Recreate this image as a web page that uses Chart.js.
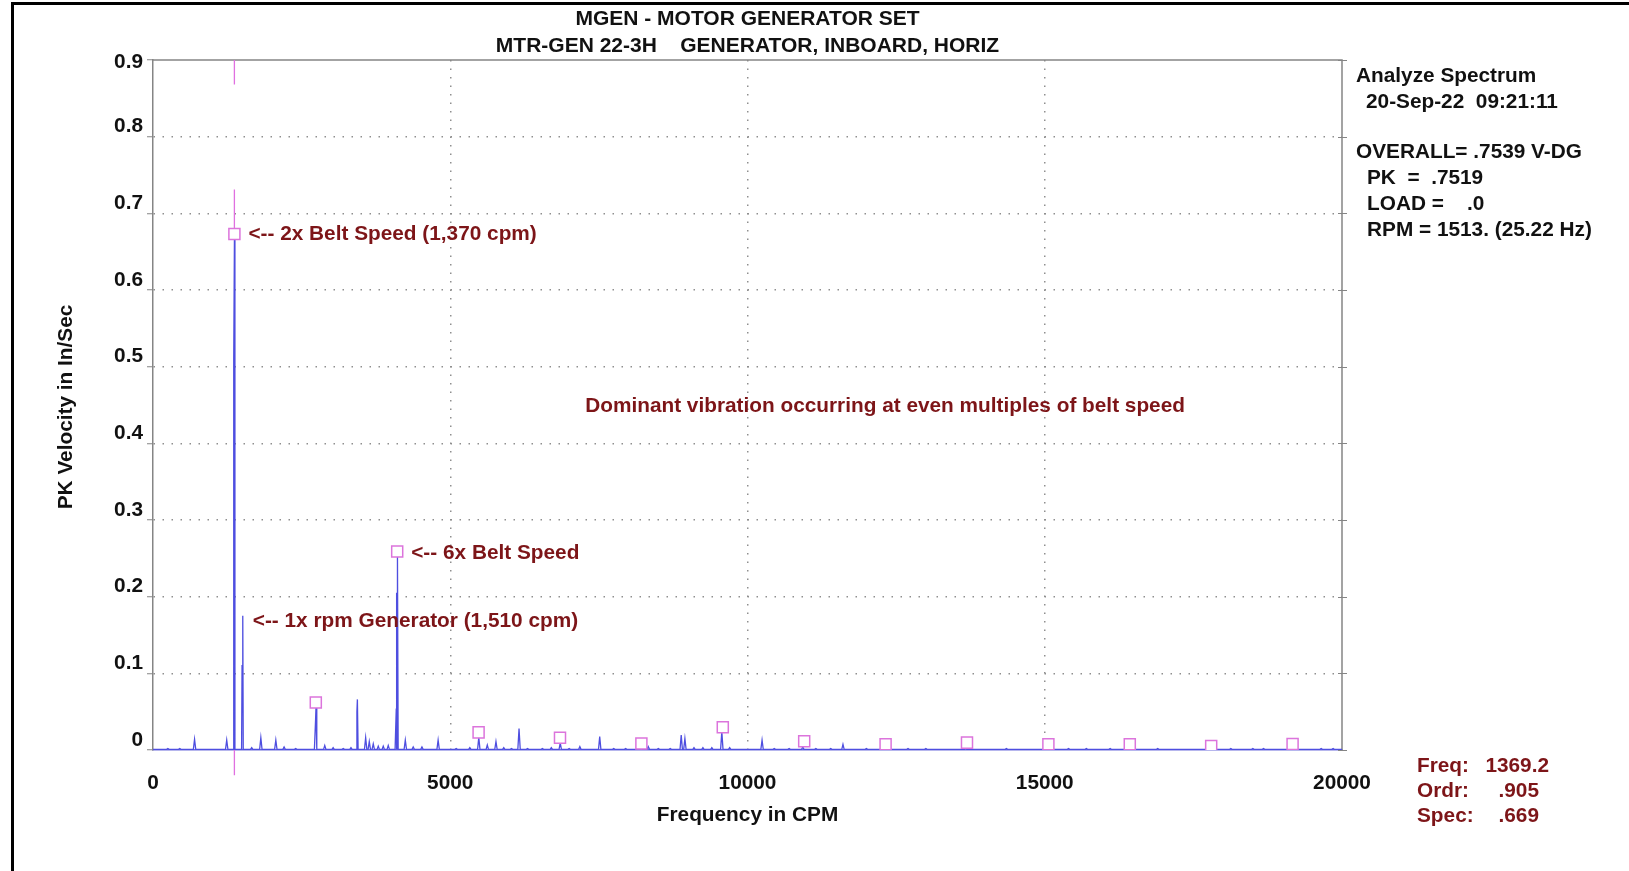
<!DOCTYPE html>
<html>
<head>
<meta charset="utf-8">
<title>MGEN - Motor Generator Set spectrum</title>
<script src="https://cdn.jsdelivr.net/npm/chart.js@4.4.1/dist/chart.umd.min.js"></script>
<style>
  html, body { margin: 0; padding: 0; background: #fff; overflow: hidden; }
  #frame {
    position: absolute; left: 11px; top: 2px; width: 1700px; height: 900px;
    border-left: 3px solid #000; border-top: 3px solid #000;
  }
  #spectrum { position: absolute; left: 0; top: 0; }
</style>
</head>
<body>
<div id="frame"></div>
<canvas id="spectrum" width="1629" height="871"></canvas>
<script>
// spectrum peaks (CPM, in/sec)
const peakCpm = [250, 450, 699, 1240, 1358, 1370, 1498, 1510, 1660, 1814, 2066, 2205, 2400,
  2735, 2742, 2889, 3030, 3200, 3330, 3430, 3438, 3577, 3638, 3705, 3789, 3873, 3957,
  4092, 4104, 4112, 4244, 4377, 4524, 4796, 5100, 5329, 5480, 5623, 5769, 5900, 6030,
  6157, 6300, 6550, 6700, 6850, 7000, 7180, 7514, 7750, 7950, 8210, 8331, 8500, 8700,
  8885, 8947, 9100, 9250, 9400, 9568, 9700, 10245, 10450, 10700, 10930, 11150, 11400,
  11606, 12000, 12300, 12700, 13000, 13670, 14355, 15020, 15400, 15700, 16100, 16410,
  16900, 18130, 18500, 18680, 19140, 19650, 19850];
const peakAmp = [0.002, 0.002, 0.014, 0.013, 0.51, 0.669, 0.11, 0.175, 0.003, 0.016, 0.013, 0.004, 0.002,
  0.040, 0.056, 0.006, 0.003, 0.002, 0.003, 0.050, 0.066, 0.016, 0.011, 0.008, 0.005, 0.005, 0.006,
  0.054, 0.205, 0.255, 0.013, 0.004, 0.004, 0.013, 0.002, 0.003, 0.0165, 0.0065, 0.011, 0.003, 0.002,
  0.028, 0.002, 0.002, 0.003, 0.009, 0.002, 0.0043, 0.0174, 0.002, 0.002, 0.003, 0.0043, 0.002, 0.002,
  0.0196, 0.015, 0.003, 0.003, 0.003, 0.024, 0.003, 0.013, 0.002, 0.002, 0.004, 0.002, 0.002,
  0.0074, 0.002, 0.003, 0.002, 0.002, 0.003, 0.002, 0.004, 0.002, 0.002, 0.002, 0.003,
  0.002, 0.002, 0.002, 0.002, 0.003, 0.002, 0.002];
const peakHalfWidth = 20;   // cpm, foot of each spectral line
const noiseFloor = 0.0008;

// harmonic markers of 2x belt speed
const harmonicCpm = [1369.2, 2738.4, 4107.6, 5476.8, 6846, 8215.2, 9584.4, 10953.6, 12322.8,
  13692, 15061.2, 16430.4, 17799.6, 19168.8];
const harmonicAmp = [0.673, 0.062, 0.259, 0.023, 0.016, 0.0085, 0.0296, 0.0115, 0.0074,
  0.0096, 0.0074, 0.0074, 0.0052, 0.0078];

// cursor line at the selected frequency
const cursorCpm = 1369.2;
const cursorY = [0.9, 0.868, null, 0.731, 0.673, null, 0, -0.033];

const xTicks = [0, 5000, 10000, 15000, 20000];
const yTicks = [0, 0.1, 0.2, 0.3, 0.4, 0.5, 0.6, 0.7, 0.8, 0.9];
const yTickLabels = ['0', '0.1', '0.2', '0.3', '0.4', '0.5', '0.6', '0.7', '0.8', '0.9'];

const titleLines = ['MGEN - MOTOR GENERATOR SET', 'MTR-GEN 22-3H    GENERATOR, INBOARD, HORIZ'];
const infoLines = [
  ['Analyze Spectrum', 0, 76],
  ['20-Sep-22  09:21:11', 10, 102],
  ['OVERALL= .7539 V-DG', 0, 152],
  ['PK  =  .7519', 11, 178],
  ['LOAD =    .0', 11, 204],
  ['RPM = 1513. (25.22 Hz)', 11, 230],
];
const cursorReadout = [
  ['Freq:', '1369.2', 766],
  ['Ordr:', '.905', 791],
  ['Spec:', '.669', 816],
];
const notes = [
  { text: '<-- 2x Belt Speed (1,370 cpm)', x: 1369.2, y: 0.673, dx: 14 },
  { text: '<-- 6x Belt Speed', x: 4107.6, y: 0.257, dx: 14 },
  { text: '<-- 1x rpm Generator (1,510 cpm)', x: 1510, y: 0.168, dx: 10 },
  { text: 'Dominant vibration occurring at even multiples of belt speed', x: 7270, y: 0.449, dx: 0 },
];

const FONT = '"Liberation Sans", Arial, sans-serif';
const DARK_RED = '#7d1518';
const AXIS_GREY = '#858585';
const GRID_GREY = '#8f8f8f';

function spectrumPoints() {
  const pts = [];
  peakCpm.forEach((f, i) => {
    pts.push({ x: f - peakHalfWidth, y: noiseFloor });
    pts.push({ x: f, y: peakAmp[i] });
    pts.push({ x: f + peakHalfWidth, y: noiseFloor });
  });
  pts.sort((a, b) => a.x - b.x);
  return [{ x: 0, y: noiseFloor }, ...pts, { x: 20000, y: noiseFloor }];
}

const textPlugin = {
  id: 'spectrumText',
  beforeDatasetsDraw(chart) {
    const { ctx, chartArea: a, scales } = chart;
    ctx.save();
    ctx.strokeStyle = AXIS_GREY;
    ctx.lineWidth = 1.5;
    ctx.beginPath();
    ctx.moveTo(a.left, a.top);
    ctx.lineTo(a.right, a.top);
    ctx.lineTo(a.right, a.bottom);
    ctx.stroke();
    // small ticks on the right frame
    ctx.lineWidth = 1;
    yTicks.forEach((v) => {
      const py = Math.round(scales.y.getPixelForValue(v)) + 0.5;
      ctx.beginPath();
      ctx.moveTo(a.right - 4, py);
      ctx.lineTo(a.right + 5, py);
      ctx.stroke();
    });
    ctx.restore();
  },
  afterDraw(chart) {
    const { ctx, chartArea: a, scales } = chart;
    const midX = (a.left + a.right) / 2;
    ctx.save();
    ctx.textBaseline = 'middle';

    ctx.fillStyle = '#111';
    ctx.textAlign = 'center';
    ctx.font = `bold 21px ${FONT}`;
    ctx.fillText(titleLines[0], midX, 19);
    ctx.fillText(titleLines[1], midX, 46);

    ctx.font = `bold 20.8px ${FONT}`;
    // y tick labels sit just above their grid line, top one below the frame
    ctx.textAlign = 'right';
    yTicks.forEach((v, i) => {
      const py = scales.y.getPixelForValue(v) + (v === 0.9 ? 2 : -10);
      ctx.fillText(yTickLabels[i], a.left - 10, py);
    });

    ctx.textAlign = 'center';
    ctx.fillText('Frequency in CPM', midX, 815);
    ctx.save();
    ctx.translate(66, (a.top + a.bottom) / 2 + 2);
    ctx.rotate(-Math.PI / 2);
    ctx.fillText('PK Velocity in In/Sec', 0, 0);
    ctx.restore();

    ctx.textAlign = 'left';
    infoLines.forEach(([t, dx, y]) => ctx.fillText(t, a.right + 14 + dx, y));

    ctx.fillStyle = DARK_RED;
    cursorReadout.forEach(([label, value, y]) => {
      ctx.fillText(label, 1417, y);
      ctx.textAlign = 'right';
      ctx.fillText(value, value.length > 5 ? 1549 : 1539, y);
      ctx.textAlign = 'left';
    });

    notes.forEach((n) => {
      ctx.fillText(n.text, scales.x.getPixelForValue(n.x) + n.dx, scales.y.getPixelForValue(n.y));
    });
    ctx.restore();
  },
};

const canvas = document.getElementById('spectrum');
new Chart(canvas, {
  type: 'scatter',
  data: {
    datasets: [
      {
        label: 'harmonics',
        data: harmonicCpm.map((f, i) => ({ x: f, y: harmonicAmp[i] })),
        showLine: false,
        pointStyle: 'rect',
        pointRadius: 7.8,
        pointBorderWidth: 1.5,
        pointBorderColor: '#dc74dc',
        pointBackgroundColor: '#ffffff',
      },
      {
        label: 'spectrum',
        data: spectrumPoints(),
        showLine: true,
        borderColor: '#4e4ee0',
        borderWidth: 1.3,
        pointRadius: 0,
        tension: 0,
      },
      {
        label: 'cursor',
        data: cursorY.map((y) => ({ x: cursorCpm, y })),
        showLine: true,
        spanGaps: false,
        borderColor: '#e070e0',
        borderWidth: 1.3,
        pointRadius: 0,
        clip: false,
      },
    ],
  },
  options: {
    responsive: false,
    animation: false,
    events: [],
    layout: { padding: { top: 60, right: 287, left: 0, bottom: 0 } },
    plugins: { legend: { display: false }, tooltip: { enabled: false } },
    scales: {
      x: {
        type: 'linear',
        min: 0,
        max: 20000,
        afterBuildTicks: (s) => { s.ticks = xTicks.map((v) => ({ value: v })); },
        afterFit: (s) => { s.height = 121; },
        ticks: {
          padding: 21,
          color: '#111',
          font: { family: FONT, size: 20.8, weight: 'bold' },
          maxRotation: 0,
          callback: (v) => `${v}`,
        },
        grid: {
          drawTicks: false,
          lineWidth: 1.5,
          color: (c) => (c.tick && c.tick.value > 0 && c.tick.value < 20000 ? GRID_GREY : 'rgba(0,0,0,0)'),
        },
        border: { color: '#6e6edc', width: 1.5, dash: [1.5, 7] },
      },
      y: {
        min: 0,
        max: 0.9,
        afterBuildTicks: (s) => { s.ticks = yTicks.map((v) => ({ value: v })); },
        afterFit: (s) => { s.width = 153; },
        ticks: { display: false },
        grid: {
          drawTicks: true,
          tickLength: 6,
          tickColor: AXIS_GREY,
          tickWidth: 1,
          tickBorderDash: [],
          lineWidth: 1.5,
          color: (c) => (c.tick && c.tick.value > 0 && c.tick.value < 0.9 ? GRID_GREY : 'rgba(0,0,0,0)'),
        },
        border: { color: AXIS_GREY, width: 1.5, dash: [1.5, 7.5] },
      },
    },
  },
  plugins: [textPlugin],
});
</script>
</body>
</html>
